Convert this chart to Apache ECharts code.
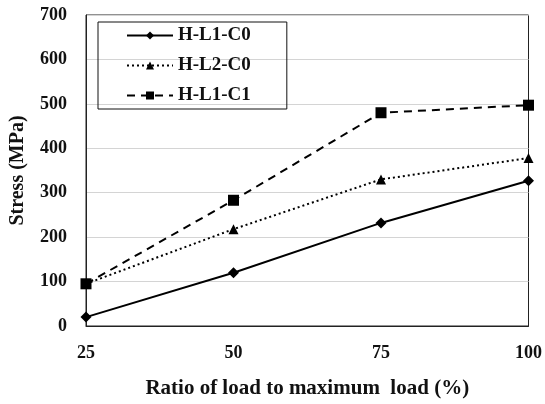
<!DOCTYPE html>
<html>
<head>
<meta charset="utf-8">
<script src="https://cdn.jsdelivr.net/npm/echarts@6/dist/echarts.min.js"></script>
<style>
  html, body { margin: 0; padding: 0; background: #fff; }
  #chart { width: 545px; height: 404px; }
</style>
</head>
<body>
<div id="chart"></div>
<script>
// ratio of load to maximum load (%)
const loadRatio = [25, 50, 75, 100]
// stress (MPa)
const hL1C0 = [20, 120, 232, 327]
const hL2C0 = [95, 218, 330, 378]
const hL1C1 = [95, 283, 480, 497]
const seriesNames = ['H-L1-C0', 'H-L2-C0', 'H-L1-C1']

const font = 'Liberation Serif'
const pair = arr => loadRatio.map((x, i) => [x, arr[i]])

const chart = echarts.init(document.getElementById('chart'))
chart.setOption({
  animation: false,
  textStyle: { fontFamily: font },
  grid: {
    left: 86,
    right: 15,
    top: 15,
    bottom: 76,
    show: true,
    borderColor: '#222',
    borderWidth: 1
  },
  legend: {
    left: 98,
    top: 22,
    orient: 'vertical',
    itemWidth: 46,
    itemHeight: 10,
    itemGap: 11,
    padding: [4, 36, 4, 28],
    borderColor: '#111',
    borderWidth: 1,
    data: seriesNames,
    textStyle: {
      fontFamily: font,
      fontWeight: 'bold',
      fontSize: 19,
      color: '#111'
    }
  },
  xAxis: {
    type: 'value',
    min: 25,
    max: 100,
    interval: 25,
    name: 'Ratio of load to maximum  load (%)',
    nameLocation: 'middle',
    nameGap: 52,
    nameTextStyle: { fontFamily: font, fontWeight: 'bold', fontSize: 21, color: '#111' },
    axisLine: { lineStyle: { color: '#222' } },
    axisTick: { show: false },
    splitLine: { show: false },
    axisLabel: { fontFamily: font, fontWeight: 'bold', fontSize: 18, color: '#111', margin: 18 }
  },
  yAxis: {
    type: 'value',
    min: 0,
    max: 700,
    interval: 100,
    name: 'Stress (MPa)',
    nameLocation: 'middle',
    nameGap: 58,
    nameTextStyle: { fontFamily: font, fontWeight: 'bold', fontSize: 20, color: '#111' },
    axisLine: { show: true, lineStyle: { color: '#222' } },
    axisTick: { show: false },
    splitLine: { lineStyle: { color: '#d4d4d4' } },
    axisLabel: { fontFamily: font, fontWeight: 'bold', fontSize: 18, color: '#111', margin: 19 }
  },
  series: [
    {
      name: seriesNames[0],
      type: 'line',
      data: pair(hL1C0),
      symbol: 'diamond',
      symbolSize: 11,
      lineStyle: { color: '#000', width: 2, type: 'solid' },
      itemStyle: { color: '#000' }
    },
    {
      name: seriesNames[1],
      type: 'line',
      data: pair(hL2C0),
      symbol: 'triangle',
      symbolSize: 10,
      lineStyle: { color: '#000', width: 2, type: [2, 3] },
      itemStyle: { color: '#000' }
    },
    {
      name: seriesNames[2],
      type: 'line',
      data: pair(hL1C1),
      symbol: 'rect',
      symbolSize: 11,
      lineStyle: { color: '#000', width: 2, type: [8, 6] },
      itemStyle: { color: '#000' }
    }
  ]
})
</script>
</body>
</html>
